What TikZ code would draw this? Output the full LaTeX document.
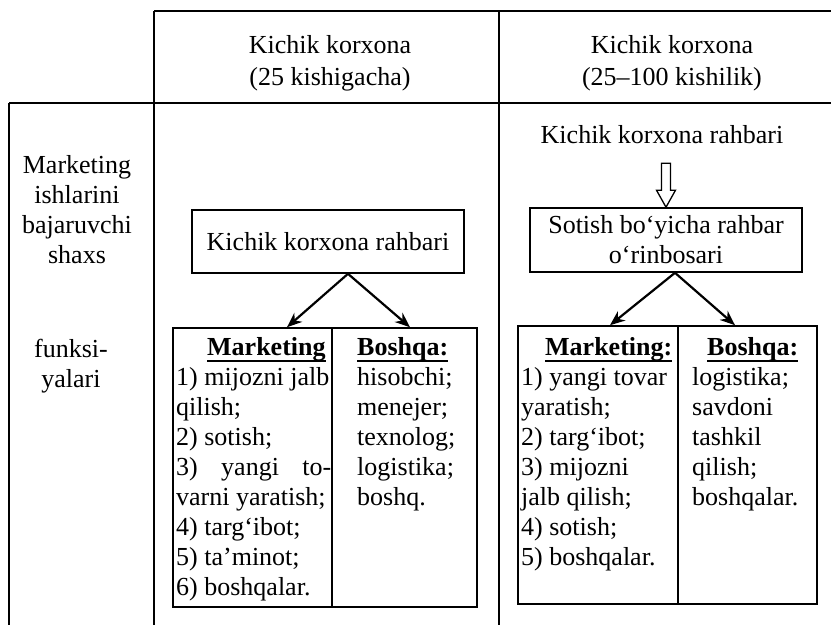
\documentclass[tikz,border=0pt]{standalone}
\usepackage{fontspec}
\setmainfont{Liberation Serif}
\usetikzlibrary{arrows.meta}
\newcommand\colhead[1]{\setbox0\hbox{\textbf{#1}}\leavevmode\rlap{\rule[-6.5pt]{\wd0}{1.4pt}}\box0}
\begin{document}
\begin{tikzpicture}[x=1pt,y=-1pt,
  font=\fontsize{26}{30}\selectfont,
  grid/.style={line width=1.3pt},
  box/.style={draw, line width=1.6pt, inner sep=0pt},
  txt/.style={inner sep=0pt, align=flush left},
  ctxt/.style={inner sep=0pt, align=flush center},
  link/.style={line width=2.2pt, -{Stealth[length=15pt,width=12pt]}},
  hollow/.style={line width=1.3pt, line join=miter}]
\useasboundingbox (0,0) rectangle (831,625);
\draw[grid] (154,11) -- (831,11);
\draw[grid] (9,103) -- (831,103);
\draw[grid] (9,103) -- (9,625);
\draw[grid] (154,11) -- (154,625);
\draw[grid] (499,11) -- (499,625);
\node[ctxt, text width=300pt, anchor=base] (head1) at (330,53) {Kichik korxona\\[2pt](25 kishigacha)};
\node[ctxt, text width=300pt, anchor=base] (head2) at (672,53) {Kichik korxona\\[2pt](25–100 kishilik)};
\node[ctxt, text width=140pt, anchor=base] (role) at (77,173) {Marketing\\ishlarini\\bajaruvchi\\shaxs};
\node[ctxt, text width=140pt, anchor=base] (func) at (71,357) {funksi-\\yalari};
\node[box, minimum width=272pt, minimum height=63pt] (lboss) at (328,241.5) {Kichik korxona rahbari};
\node[ctxt, anchor=base] (rboss) at (662,143) {Kichik korxona rahbari};
\node[box, align=flush center, minimum width=272pt, minimum height=64pt] (deputy) at (666,240) {Sotish bo‘yicha rahbar\\o‘rinbosari};
\node[box, minimum width=159pt, minimum height=279pt] (lmark) at (252.5,467.5) {};
\node[box, minimum width=145pt, minimum height=279pt] (lother) at (404.5,467.5) {};
\node[box, minimum width=160pt, minimum height=278pt] (rmark) at (598,465) {};
\node[box, minimum width=139pt, minimum height=278pt] (rother) at (747.5,465) {};
\node[txt, text width=166pt, anchor=base west] (lmtext) at (176,355) {\hspace*{31pt}\colhead{Marketing}\\1) mijozni jalb\\qilish;\\2) sotish;\\\makebox[155pt][s]{3) yangi to-}\\varni yaratish;\\4) targ‘ibot;\\5) ta’minot;\\6) boshqalar.};
\node[txt, text width=122pt, anchor=base west] (lotext) at (357,355) {\colhead{Boshqa:}\\hisobchi;\\menejer;\\texnolog;\\logistika;\\boshq.};
\node[txt, text width=160pt, anchor=base west] (rmtext) at (521,355) {\hspace*{24pt}\colhead{Marketing:}\\1) yangi tovar\\yaratish;\\2) targ‘ibot;\\3) mijozni\\jalb qilish;\\4) sotish;\\5) boshqalar.};
\node[txt, text width=126pt, anchor=base west] (rotext) at (692,355) {\hspace*{15pt}\colhead{Boshqa:}\\logistika;\\savdoni\\tashkil\\qilish;\\boshqalar.};
\draw[link] ([xshift=20pt]lboss.south) -- ([xshift=34.5pt]lmark.north);
\draw[link] ([xshift=20pt]lboss.south) -- ([xshift=5.5pt]lother.north);
\draw[link] ([xshift=9pt]deputy.south) -- ([xshift=12pt]rmark.north);
\draw[link] ([xshift=9pt]deputy.south) -- ([xshift=-12.5pt]rother.north);
\draw[hollow] (deputy.north) -- ++(-9.5,-17) -- ++(5,0) -- ++(0,-27) -- ++(9,0) -- ++(0,27) -- ++(5,0) -- cycle;
\end{tikzpicture}
\end{document}
